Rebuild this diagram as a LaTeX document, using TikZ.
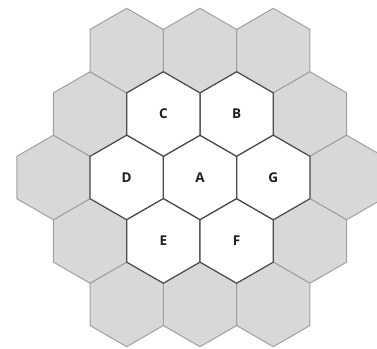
\documentclass[tikz,border=0pt]{standalone}
\usepackage{fontspec}
\setsansfont{Open Sans}
\usetikzlibrary{shapes.geometric}
\definecolor{cellgray}{HTML}{D8D8D8}
\definecolor{edgegray}{HTML}{A0A0A0}
\definecolor{edgedark}{HTML}{4A4A4A}
\definecolor{labelink}{HTML}{1E1E1E}
\tikzset{
  hexcell/.style={regular polygon, regular polygon sides=6, shape border rotate=30, minimum size=84.6pt, inner sep=0pt, outer sep=0pt, line width=1pt},
  ringcell/.style={hexcell, draw=edgegray, fill=cellgray},
  corecell/.style={hexcell, draw=edgedark, line width=1.2pt, fill=white, text=labelink, font=\sffamily\bfseries\fontsize{13.5}{15}\selectfont},
}
\begin{document}
\begin{tikzpicture}[x=1pt,y=1pt]
  \useasboundingbox (0,0) rectangle (377,348);
  \clip (0,0) rectangle (377,348);
  % outer ring of grey cells
  \foreach \q/\r [count=\i] in {2/-2,2/-1,2/0,1/1,0/2,-1/2,-2/2,-2/1,-2/0,-1/-1,0/-2,1/-2}
    \node[ringcell] (ring\i) at ({200+73.3*(\q+0.5*\r)},{170.5-63.45*\r}) {};
  % inner cluster
  \foreach \q/\r/\lbl in {0/0/A,1/-1/B,0/-1/C,-1/0/D,-1/1/E,0/1/F,1/0/G}
    \node[corecell] (cell\lbl) at ({200+73.3*(\q+0.5*\r)},{170.5-63.45*\r}) {\lbl};
\end{tikzpicture}
\end{document}
